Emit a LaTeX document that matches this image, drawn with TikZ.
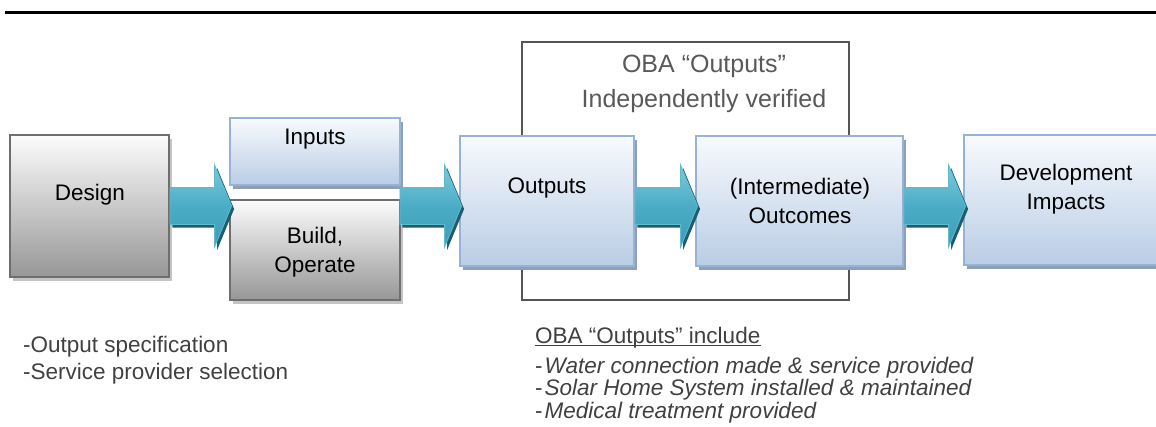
\documentclass[tikz,border=0pt]{standalone}
\usepackage{fontspec}
\setmainfont{Liberation Sans}
\usetikzlibrary{calc,shadows}
\definecolor{blueborder}{HTML}{95B3D7}
\definecolor{bluetop}{HTML}{F8FAFD}
\definecolor{bluebot}{HTML}{B9CDE5}
\definecolor{blueshadow}{HTML}{8E9FB6}
\definecolor{grayborder}{HTML}{6E6E6E}
\definecolor{graytop}{HTML}{FCFCFC}
\definecolor{graybot}{HTML}{979797}
\definecolor{grayshadow}{HTML}{C4C4C4}
\definecolor{arrowtop}{HTML}{7ECADB}
\definecolor{arrowmid}{HTML}{4BACC6}
\definecolor{arrowbot}{HTML}{3E9DB6}
\definecolor{arrowedge}{HTML}{5EBBD2}
\definecolor{arrowshade}{HTML}{215C6B}
\definecolor{framegray}{HTML}{555555}
\definecolor{titlegray}{HTML}{595959}
\definecolor{notegray}{HTML}{404040}
\newcommand\fatarrowpath[2]{($(#1)+(0,-18.5)$) -- ($(#2)+(-17,-18.5)$) -- ($(#2)+(-17,-41)$) -- (#2) -- ($(#2)+(-17,41)$) -- ($(#2)+(-17,18.5)$) -- ($(#1)+(0,18.5)$) -- cycle}
\begin{document}
\begin{tikzpicture}[x=1pt,y=-1pt,
  box/.style={rectangle, line width=1.8pt, inner sep=0pt},
  bluebox/.style={box, draw=blueborder, top color=bluetop, bottom color=bluebot,
    drop shadow={shadow xshift=3pt, shadow yshift=-3.5pt, fill=blueshadow, opacity=1}},
  graybox/.style={box, draw=grayborder, top color=graytop, bottom color=graybot,
    drop shadow={shadow xshift=3pt, shadow yshift=-3.5pt, fill=grayshadow, opacity=1}},
  lbl/.style={font=\fontsize{22.5}{29}\selectfont, align=center, inner sep=0pt, text=black},
  titlelbl/.style={font=\fontsize{25}{30}\selectfont, inner sep=0pt, text=titlegray, anchor=base},
  note/.style={font=\fontsize{22.5}{27}\selectfont, inner sep=0pt, text=notegray, anchor=base west},
  arrowbody/.style={top color=arrowtop, bottom color=arrowbot, middle color=arrowmid, draw=arrowedge, line width=0.8pt, line join=miter},
  arrowshadow/.style={fill=arrowshade, transform canvas={shift={(2.5,3)}}},
  framebox/.style={rectangle, draw=framegray, line width=1.5pt, fill=white, inner sep=0pt}
]
\clip (0,0) rectangle (1156,426);
\useasboundingbox (0,0) rectangle (1156,426);
% top rule
\coordinate (ruleL) at (5,12.5);
\coordinate (ruleR) at (1160,12.5);
\draw[line width=2.5pt] (ruleL) -- (ruleR);
% verification frame
\node[framebox, minimum width=327pt, minimum height=258pt] (oba) at (685.5,171) {};
\node[titlelbl] (obat1) at (704,72) {OBA “Outputs”};
\node[titlelbl] (obat2) at (704,107) {Independently verified};
% boxes
\node[graybox, minimum width=159pt, minimum height=142pt] (design) at (89.5,206) {};
\node[bluebox, minimum width=170pt, minimum height=67pt] (inputs) at (315,151.5) {};
\node[graybox, minimum width=170pt, minimum height=100pt] (build) at (315,250) {};
\node[bluebox, minimum width=174pt, minimum height=130pt] (outputs) at (547,201) {};
\node[bluebox, minimum width=207pt, minimum height=130pt] (outcomes) at (799.5,201) {};
\node[bluebox, minimum width=207pt, minimum height=130pt] (impacts) at (1067.5,200) {};
% box labels
\node[lbl] (tdesign) at (90,195) {Design};
\node[lbl] (tinputs) at (315,139) {Inputs};
\node[lbl] (tbuild) at (315,252) {Build,\\Operate};
\node[lbl] (toutputs) at (547,188) {Outputs};
\node[lbl] (toutcomes) at (800,201) {(Intermediate)\\Outcomes};
\node[lbl] (timpacts) at (1066,189) {Development\\Impacts};
% arrows
\coordinate (mid) at (0,206);
\coordinate (a1s) at (design.east |- mid);
\coordinate (a1t) at ($(build.west |- mid)+(2.5,0)$);
\coordinate (a2s) at ($(inputs.east |- mid)+(-1,0)$);
\coordinate (a2t) at ($(outputs.west |- mid)+(2.5,0)$);
\coordinate (a3s) at (outputs.east |- mid);
\coordinate (a3t) at ($(outcomes.west |- mid)+(2.5,0)$);
\coordinate (a4s) at (outcomes.east |- mid);
\coordinate (a4t) at ($(impacts.west |- mid)+(2.5,0)$);
\foreach \s/\t in {a1s/a1t, a2s/a2t, a3s/a3t, a4s/a4t}{
  \fill[arrowshadow] \fatarrowpath{\s}{\t};
  \path[arrowbody] \fatarrowpath{\s}{\t};
}
% notes
\node[note] (n1) at (23,352.5) {-Output specification};
\node[note] (n2) at (23,379.5) {-Service provider selection};
\node[note] (n3) at (535,343) {OBA “Outputs” include};
\draw[notegray, line width=1.1pt] ($(n3.base west)+(0,2.5)$) -- ($(n3.base east)+(0,2.5)$);
\node[note] (n4) at (535,373) {-\kern2pt\textit{Water connection made \& service provided}};
\node[note] (n5) at (535,395.5) {-\kern2pt\textit{Solar Home System installed \& maintained}};
\node[note] (n6) at (535,418) {-\kern2pt\textit{Medical treatment provided}};
\end{tikzpicture}
\end{document}
